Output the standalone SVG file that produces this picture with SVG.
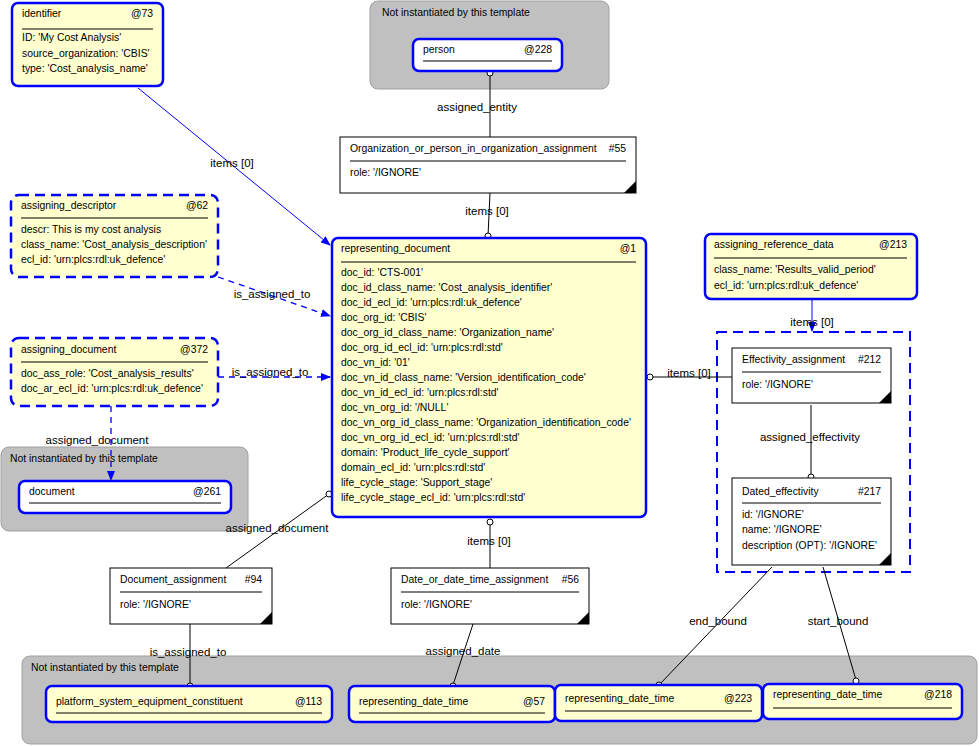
<svg xmlns="http://www.w3.org/2000/svg" width="979" height="746" viewBox="0 0 979 746">
<style>
text{font-family:"Liberation Sans",Arial,sans-serif;font-size:10.4px;fill:#000}
.lbl{font-size:11.5px;text-anchor:middle}
.r{text-anchor:end}
.y{fill:#ffffd0;stroke:#0000ff;stroke-width:2.5}
.yd{fill:#ffffd0;stroke:#0000ff;stroke-width:2.5;stroke-dasharray:10,6}
.w{fill:#fff;stroke:#0000ff;stroke-width:2.5}
.b{fill:#fff;stroke:#000;stroke-width:1}
.g{fill:#c0c0c0;stroke:#a0a0a0;stroke-width:1}
.u{stroke:#000;stroke-width:1}
.k{stroke:#000;stroke-width:1;fill:none}
.bl{stroke:#0000ff;stroke-width:1;fill:none}
.bd{stroke:#0000ff;stroke-width:1.3;fill:none;stroke-dasharray:6,5}
.c{fill:#fff;stroke:#000;stroke-width:1}
</style>
<defs>
<marker id="a" markerWidth="10" markerHeight="8" refX="9" refY="4" orient="auto" markerUnits="userSpaceOnUse"><path d="M0,0 L10,4 L0,8 Z" fill="#0000ff"/></marker>
</defs>
<g id="gray-top"><rect class="g" x="370" y="1" width="239" height="88" rx="8"/><text x="382" y="16">Not instantiated by this template</text></g>
<g id="gray-left"><rect class="g" x="1" y="447" width="247" height="84" rx="8"/><text x="10" y="462">Not instantiated by this template</text></g>
<g id="gray-bottom"><rect class="g" x="22" y="656" width="955" height="88" rx="8"/><text x="31" y="671">Not instantiated by this template</text></g>
<rect x="717" y="332" width="193" height="240" fill="none" stroke="#0000ff" stroke-width="2" stroke-dasharray="10,6"/>

<g id="connectors">
<path class="bl" d="M138,88 L330,245" marker-end="url(#a)"/>
<path class="bd" d="M218,277 L330,316" marker-end="url(#a)"/>
<path class="bd" d="M218,377 L330,377" marker-end="url(#a)"/>
<path class="bd" d="M111,406 L111,480" marker-end="url(#a)"/>
<path class="bl" d="M812,299 L812,331" marker-end="url(#a)"/>
<path class="k" d="M490,73 L490,137"/>
<path class="k" d="M490,193 L488,236"/>
<path class="k" d="M650,377 L732,377"/>
<path class="k" d="M811,405 L811,477"/>
<path class="k" d="M772,567 L659,685"/>
<path class="k" d="M823,567 L856,680"/>
<path class="k" d="M329,494 L226,568"/>
<path class="k" d="M490,522 L490,568"/>
<path class="k" d="M190,624 L190,686"/>
<path class="k" d="M473,624 L453,685"/>
<circle class="c" cx="490" cy="73" r="3"/>
<circle class="c" cx="488" cy="236" r="3"/>
<circle class="c" cx="650" cy="377" r="3"/>
<circle class="c" cx="811" cy="477" r="3"/>
<circle class="c" cx="659" cy="685" r="3"/>
<circle class="c" cx="856" cy="681" r="3"/>
<circle class="c" cx="329" cy="494" r="3"/>
<circle class="c" cx="490" cy="522" r="3"/>
<circle class="c" cx="190" cy="686" r="3"/>
<circle class="c" cx="453" cy="686" r="3"/>
<text class="lbl" x="477" y="111">assigned_entity</text>
<text class="lbl" x="487" y="215">items [0]</text>
<text class="lbl" x="232" y="167">items [0]</text>
<text class="lbl" x="272" y="298">is_assigned_to</text>
<text class="lbl" x="270" y="376">is_assigned_to</text>
<text class="lbl" x="97" y="444">assigned_document</text>
<text class="lbl" x="689" y="377">items [0]</text>
<text class="lbl" x="812" y="326">items [0]</text>
<text class="lbl" x="810" y="441">assigned_effectivity</text>
<text class="lbl" x="718" y="625">end_bound</text>
<text class="lbl" x="838" y="625">start_bound</text>
<text class="lbl" x="277" y="532">assigned_document</text>
<text class="lbl" x="489" y="545">items [0]</text>
<text class="lbl" x="188" y="656">is_assigned_to</text>
<text class="lbl" x="463" y="655">assigned_date</text>
</g>

<g id="identifier"><rect class="y" x="12" y="3" width="151" height="83" rx="6"/><text x="22" y="17">identifier</text><text class="r" x="153" y="17">@73</text><line class="u" x1="22" y1="29" x2="153" y2="29"/><text x="22" y="41">ID: 'My Cost Analysis'</text><text x="22" y="57">source_organization: 'CBIS'</text><text x="22" y="72">type: 'Cost_analysis_name'</text></g>

<g id="person"><rect class="w" x="413" y="39" width="149" height="32" rx="6"/><text x="423" y="53">person</text><text class="r" x="552" y="53">@228</text><line class="u" x1="423" y1="61" x2="552" y2="61"/></g>

<g id="org"><rect class="b" x="340" y="137" width="296" height="56"/><text x="350" y="152">Organization_or_person_in_organization_assignment</text><text class="r" x="626" y="152">#55</text><line class="u" x1="350" y1="161" x2="626" y2="161"/><text x="350" y="176">role: '/IGNORE'</text><path d="M636,181 L636,193 L624,193 Z"/></g>

<g id="assigning_descriptor"><rect class="yd" x="11" y="195" width="207" height="82" rx="8"/><text x="21" y="209">assigning_descriptor</text><text class="r" x="208" y="209">@62</text><line class="u" x1="21" y1="218" x2="208" y2="218"/><text x="21" y="233">descr: This is my cost analysis</text><text x="21" y="248">class_name: 'Cost_analysis_description'</text><text x="21" y="263">ecl_id: 'urn:plcs:rdl:uk_defence'</text></g>

<g id="assigning_document"><rect class="yd" x="11" y="338" width="207" height="68" rx="8"/><text x="21" y="353">assigning_document</text><text class="r" x="208" y="353">@372</text><line class="u" x1="21" y1="362" x2="208" y2="362"/><text x="21" y="377">doc_ass_role: 'Cost_analysis_results'</text><text x="21" y="392">doc_ar_ecl_id: 'urn:plcs:rdl:uk_defence'</text></g>

<g id="document"><rect class="w" x="19" y="481" width="212" height="32" rx="6"/><text x="29" y="495">document</text><text class="r" x="221" y="495">@261</text><line class="u" x1="29" y1="503" x2="221" y2="503"/></g>

<g id="representing_document"><rect class="y" x="332" y="238" width="314" height="279" rx="6"/><text x="341" y="252">representing_document</text><text class="r" x="636" y="252">@1</text><line class="u" x1="341" y1="262" x2="636" y2="262"/>
<text x="341" y="276">doc_id: 'CTS-001'</text>
<text x="341" y="291">doc_id_class_name: 'Cost_analysis_identifier'</text>
<text x="341" y="306">doc_id_ecl_id: 'urn:plcs:rdl:uk_defence'</text>
<text x="341" y="321">doc_org_id: 'CBIS'</text>
<text x="341" y="336">doc_org_id_class_name: 'Organization_name'</text>
<text x="341" y="351">doc_org_id_ecl_id: 'urn:plcs:rdl:std'</text>
<text x="341" y="366">doc_vn_id: '01'</text>
<text x="341" y="381">doc_vn_id_class_name: 'Version_identification_code'</text>
<text x="341" y="396">doc_vn_id_ecl_id: 'urn:plcs:rdl:std'</text>
<text x="341" y="411">doc_vn_org_id: '/NULL'</text>
<text x="341" y="426">doc_vn_org_id_class_name: 'Organization_identification_code'</text>
<text x="341" y="441">doc_vn_org_id_ecl_id: 'urn:plcs:rdl:std'</text>
<text x="341" y="456">domain: 'Product_life_cycle_support'</text>
<text x="341" y="471">domain_ecl_id: 'urn:plcs:rdl:std'</text>
<text x="341" y="486">life_cycle_stage: 'Support_stage'</text>
<text x="341" y="501">life_cycle_stage_ecl_id: 'urn:plcs:rdl:std'</text>
</g>

<g id="assigning_reference_data"><rect class="y" x="705" y="234" width="212" height="65" rx="6"/><text x="714" y="248">assigning_reference_data</text><text class="r" x="907" y="248">@213</text><line class="u" x1="714" y1="258" x2="907" y2="258"/><text x="714" y="273">class_name: 'Results_valid_period'</text><text x="714" y="289">ecl_id: 'urn:plcs:rdl:uk_defence'</text></g>

<g id="effectivity_assignment"><rect class="b" x="732" y="348" width="159" height="55"/><text x="742" y="363">Effectivity_assignment</text><text class="r" x="881" y="363">#212</text><line class="u" x1="742" y1="372" x2="881" y2="372"/><text x="742" y="388">role: '/IGNORE'</text><path d="M891,391 L891,403 L879,403 Z"/></g>

<g id="dated_effectivity"><rect class="b" x="732" y="478" width="159" height="87"/><text x="742" y="495">Dated_effectivity</text><text class="r" x="881" y="495">#217</text><line class="u" x1="742" y1="503" x2="881" y2="503"/><text x="742" y="518">id: '/IGNORE'</text><text x="742" y="533">name: '/IGNORE'</text><text x="742" y="549">description (OPT): '/IGNORE'</text><path d="M891,553 L891,565 L879,565 Z"/></g>

<g id="document_assignment"><rect class="b" x="110" y="568" width="162" height="56"/><text x="120" y="583">Document_assignment</text><text class="r" x="262" y="583">#94</text><line class="u" x1="120" y1="592" x2="262" y2="592"/><text x="120" y="608">role: '/IGNORE'</text><path d="M272,612 L272,624 L260,624 Z"/></g>

<g id="date_assignment"><rect class="b" x="391" y="568" width="198" height="56"/><text x="401" y="583">Date_or_date_time_assignment</text><text class="r" x="579" y="583">#56</text><line class="u" x1="401" y1="592" x2="579" y2="592"/><text x="401" y="608">role: '/IGNORE'</text><path d="M589,612 L589,624 L577,624 Z"/></g>

<g id="platform"><rect class="y" x="46" y="686" width="286" height="36" rx="6"/><text x="56" y="705">platform_system_equipment_constituent</text><text class="r" x="322" y="705">@113</text><line class="u" x1="56" y1="713" x2="322" y2="713"/></g>
<g id="rdt57"><rect class="y" x="349" y="686" width="206" height="36" rx="6"/><text x="359" y="705">representing_date_time</text><text class="r" x="545" y="705">@57</text><line class="u" x1="359" y1="713" x2="545" y2="713"/></g>
<g id="rdt223"><rect class="y" x="555" y="685" width="207" height="36" rx="6"/><text x="565" y="702">representing_date_time</text><text class="r" x="752" y="702">@223</text><line class="u" x1="565" y1="711" x2="752" y2="711"/></g>
<g id="rdt218"><rect class="y" x="763" y="684" width="199" height="35" rx="6"/><text x="773" y="698">representing_date_time</text><text class="r" x="952" y="698">@218</text><line class="u" x1="773" y1="708" x2="952" y2="708"/></g>
</svg>
